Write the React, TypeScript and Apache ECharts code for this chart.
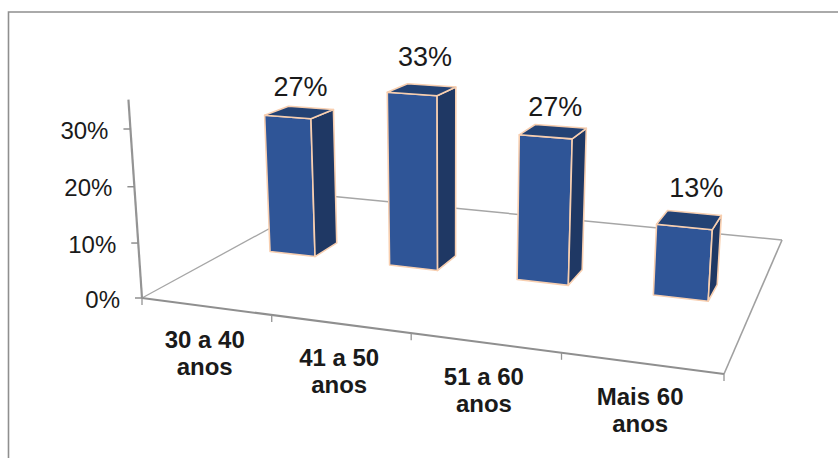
import React, { useEffect, useRef } from "react";
import * as echarts from "echarts";

const categories = ["30 a 40\nanos", "41 a 50\nanos", "51 a 60\nanos", "Mais 60\nanos"];
const shares = [27, 33, 27, 13];
const yTicks = [0, 10, 20, 30];
const yMax = 35;

const WIDTH = 838;
const HEIGHT = 458;

// Floor corners on screen: front-left, front-right, back-right, back-left.
const Q = [[142, 298], [724, 374], [782, 240], [329, 196]];
// Homogeneous vertical direction (vanishing point below the page), per unit of axis value.
const VANISH: [number, number] = [450, 4800];
const RISE = -0.001206;

function floorMatrix() {
  const [[x0, y0], [x1, y1], [x2, y2], [x3, y3]] = Q;
  const dx1 = x1 - x2, dx2 = x3 - x2, sx = x0 - x1 + x2 - x3;
  const dy1 = y1 - y2, dy2 = y3 - y2, sy = y0 - y1 + y2 - y3;
  const det = dx1 * dy2 - dx2 * dy1;
  const g = (sx * dy2 - dx2 * sy) / det;
  const h = (dx1 * sy - sx * dy1) / det;
  return { g, h, a: x1 * (1 + g) - x0, b: x3 * (1 + h) - x0, d: y1 * (1 + g) - y0, e: y3 * (1 + h) - y0, x0, y0 };
}
const M = floorMatrix();

// Perspective projection: u runs along the categories, v into depth, value upward.
function project(u: number, v: number, value: number): number[] {
  const s = value * RISE;
  const w = 1 + M.g * u + M.h * v + s;
  return [
    (M.x0 + M.a * u + M.b * v + s * VANISH[0]) / w,
    (M.y0 + M.d * u + M.e * v + s * VANISH[1]) / w,
  ];
}

const FONT = '"Liberation Sans", Arial, sans-serif';
const FRONT = "#2f5597";
const SIDE = "#1f3864";
const TOP = "#234274";
const EDGE = "#f8cfb0";
const BAR_HALF = 0.192; // of a category band
const V_NEAR = 0.43;
const V_FAR = 0.56;
// Value labels sit above each bar's top face.
const LABEL_DX = [1, 3, 2, 7];
const LABEL_LIFT = [25, 33, 25, 32];

function line(a: number[], b: number[], stroke: string, lineWidth: number) {
  return { type: "line", shape: { x1: a[0], y1: a[1], x2: b[0], y2: b[1] }, style: { stroke, lineWidth } };
}

function face(points: number[][], fill: string) {
  return {
    type: "polygon",
    shape: { points },
    style: { fill, stroke: EDGE, lineWidth: 1.6, lineJoin: "round" },
  };
}

// The hidden grid fills the page, so pixel fractions of its scales are the
// normalised u position and the value fed into the projection.
function scaled(api: any, band: number, value: number) {
  const c = api.coord([band, value]);
  return { u: c[0] / WIDTH, val: ((HEIGHT - c[1]) / HEIGHT) * yMax, bandWidth: api.size([1, 0])[0] / WIDTH };
}

function renderFloor(_p: any, api: any) {
  const grey = "#949494";
  const children: any[] = [
    line(project(0, 0, 0), project(0, 1, 0), "#a6a6a6", 1.3),
    line(project(0, 1, 0), project(1, 1, 0), "#a6a6a6", 1.5),
    line(project(1, 1, 0), project(1, 0, 0), "#a0a0a0", 1.6),
    line(project(0, 0, 0), project(1, 0, 0), "#8f8f8f", 2),
    line(project(0, 0, 0), project(0, 0, yMax), grey, 2.2),
  ];
  for (let i = 0; i <= categories.length; i++) {
    const p = project(i / categories.length, 0, 0);
    children.push(line(p, [p[0], p[1] + 7], grey, 1.3));
  }
  return { type: "group", children };
}

function renderYTick(_p: any, api: any) {
  const value = api.value(0);
  const p = project(0, 0, value);
  return {
    type: "group",
    children: [
      line([p[0] - 7, p[1]], p, "#8f8f8f", 1.5),
      {
        type: "text",
        style: {
          x: p[0] - 22,
          y: p[1] + 1,
          text: `${value}%`,
          fontFamily: FONT,
          fontSize: 24,
          fill: "#1a1a1a",
          textAlign: "right",
          textVerticalAlign: "middle",
        },
      },
    ],
  };
}

function renderBar(_p: any, api: any) {
  const band = api.value(0);
  const value = api.value(1);
  const { u, val, bandWidth } = scaled(api, band, value);
  const half = BAR_HALF * bandWidth;
  const l = u - half;
  const r = u + half;
  const flb = project(l, V_NEAR, 0), frb = project(r, V_NEAR, 0), brb = project(r, V_FAR, 0);
  const flt = project(l, V_NEAR, val), frt = project(r, V_NEAR, val);
  const brt = project(r, V_FAR, val), blt = project(l, V_FAR, val);
  const mid = project(u, (V_NEAR + V_FAR) / 2, val);
  return {
    type: "group",
    children: [
      face([flt, frt, frb, flb], FRONT),
      face([frt, brt, brb, frb], SIDE),
      face([flt, blt, brt, frt], TOP),
      {
        type: "text",
        style: {
          x: mid[0] + LABEL_DX[band],
          y: mid[1] - LABEL_LIFT[band],
          text: `${value}%`,
          fontFamily: FONT,
          fontSize: 27,
          fill: "#1a1a1a",
          textAlign: "center",
          textVerticalAlign: "middle",
        },
      },
    ],
  };
}

function renderCategory(_p: any, api: any) {
  const band = api.value(0);
  const { u } = scaled(api, band, 0);
  const p = project(u, 0, 0);
  return {
    type: "text",
    style: {
      x: p[0] - 1,
      y: p[1] + 47,
      text: categories[band],
      fontFamily: FONT,
      fontSize: 24,
      fontWeight: "bold",
      lineHeight: 27,
      fill: "#1a1a1a",
      textAlign: "center",
      textVerticalAlign: "middle",
    },
  };
}

export default function App() {
  const ref = useRef<HTMLDivElement>(null);
  useEffect(() => {
    document.body.style.margin = "0";
    const chart = echarts.init(ref.current!, undefined, { renderer: "svg" });
    chart.setOption({
      animation: false,
      backgroundColor: "#ffffff",
      grid: { left: 0, right: 0, top: 0, bottom: 0 },
      xAxis: { type: "category", data: categories, show: false },
      yAxis: { type: "value", min: 0, max: yMax, show: false },
      graphic: [
        {
          type: "polyline",
          shape: { points: [[8.5, 458], [8.5, 12], [838, 12]] },
          style: { stroke: "#8f8f8f", lineWidth: 1.6, fill: "none" },
        },
      ],
      series: [
        { type: "custom", coordinateSystem: "cartesian2d", data: [[0, 0]], renderItem: renderFloor, silent: true, clip: false },
        { type: "custom", coordinateSystem: "cartesian2d", data: yTicks.map((t) => [t]), encode: { x: -1, y: 0 }, renderItem: renderYTick, silent: true, clip: false },
        { type: "custom", coordinateSystem: "cartesian2d", data: categories.map((_, i) => [i]), encode: { x: 0, y: -1 }, renderItem: renderCategory, silent: true, clip: false },
        { type: "custom", coordinateSystem: "cartesian2d", data: shares.map((v, i) => [i, v]), encode: { x: 0, y: 1 }, renderItem: renderBar, silent: true, clip: false },
      ],
    });
    return () => chart.dispose();
  }, []);
  return <div ref={ref} style={{ width: WIDTH, height: HEIGHT }} />;
}
